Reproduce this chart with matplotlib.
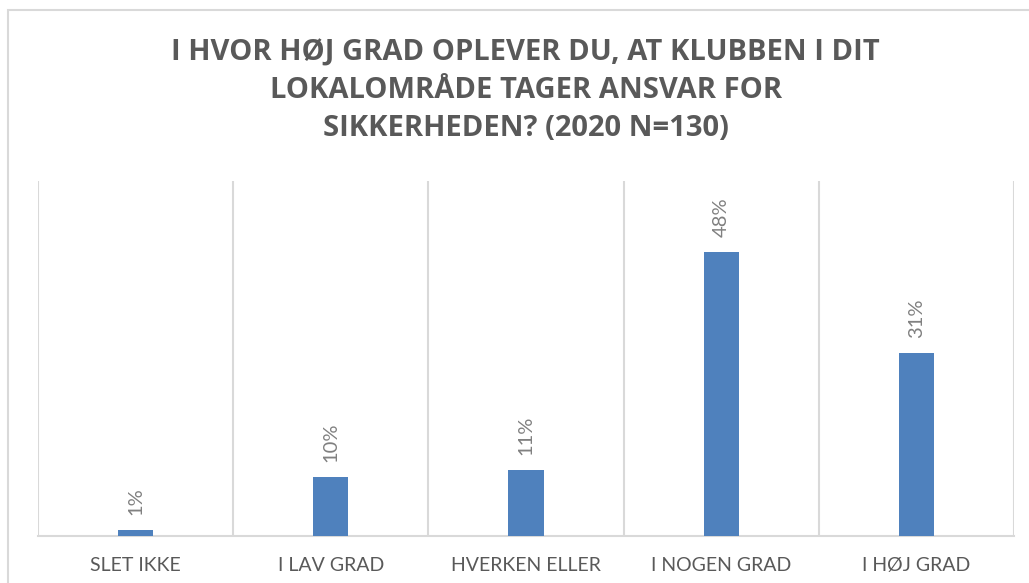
import matplotlib
matplotlib.use("Agg")
import matplotlib.pyplot as plt
from matplotlib.patches import Rectangle

categories = ["SLET IKKE", "I LAV GRAD", "HVERKEN ELLER", "I NOGEN GRAD", "I HØJ GRAD"]
values = [0.009, 0.099, 0.111, 0.48, 0.309]
title = "I HVOR HØJ GRAD OPLEVER DU, AT KLUBBEN I DIT\nLOKALOMRÅDE TAGER ANSVAR FOR\nSIKKERHEDEN? (2020 N=130)"

bar_color = "#4F81BD"
grid_color = "#D9D9D9"
text_color = "#595959"

fig = plt.figure(figsize=(10.29, 5.83), dpi=100)
ax = fig.add_axes([0.0369, 0.0811, 0.9485, 0.6084])

x = range(len(categories))
bars = ax.bar(x, values, width=0.18, color=bar_color, zorder=3)

for b, v in zip(bars, values):
    ax.annotate(f"{v:.0%}", (b.get_x() + b.get_width() / 2, b.get_height()),
                xytext=(0, 11), textcoords="offset points", rotation=90,
                ha="center", va="bottom", fontsize=14.5, color="#808080",
                family="Lato")

ax.set_xlim(-0.5, len(categories) - 0.5)
ax.set_ylim(0, 0.6)
ax.set_yticks([])
ax.set_xticks(list(x))
ax.set_xticklabels(categories, fontsize=14, color=text_color, family="Lato")
ax.set_xticks([i - 0.5 for i in range(len(categories) + 1)], minor=True)
ax.tick_params(axis="x", which="both", length=0, pad=15)
ax.grid(True, axis="x", which="minor", color=grid_color, linewidth=1.5)
for s in ["top", "left", "right"]:
    ax.spines[s].set_visible(False)
ax.spines["bottom"].set_color(grid_color)
ax.spines["bottom"].set_linewidth(1.5)

fig.text(0.511, 0.845, title, ha="center", va="center", fontsize=21,
         fontweight="bold", color=text_color, family="Open Sans", linespacing=1.4)

# outer chart border
fig.patches.append(Rectangle((8 / 1029, -0.1), 1.2, 1 - 10 / 583 + 0.1,
                             transform=fig.transFigure, fill=False,
                             edgecolor=grid_color, linewidth=1.5))

fig.savefig("out.png", dpi=100)
